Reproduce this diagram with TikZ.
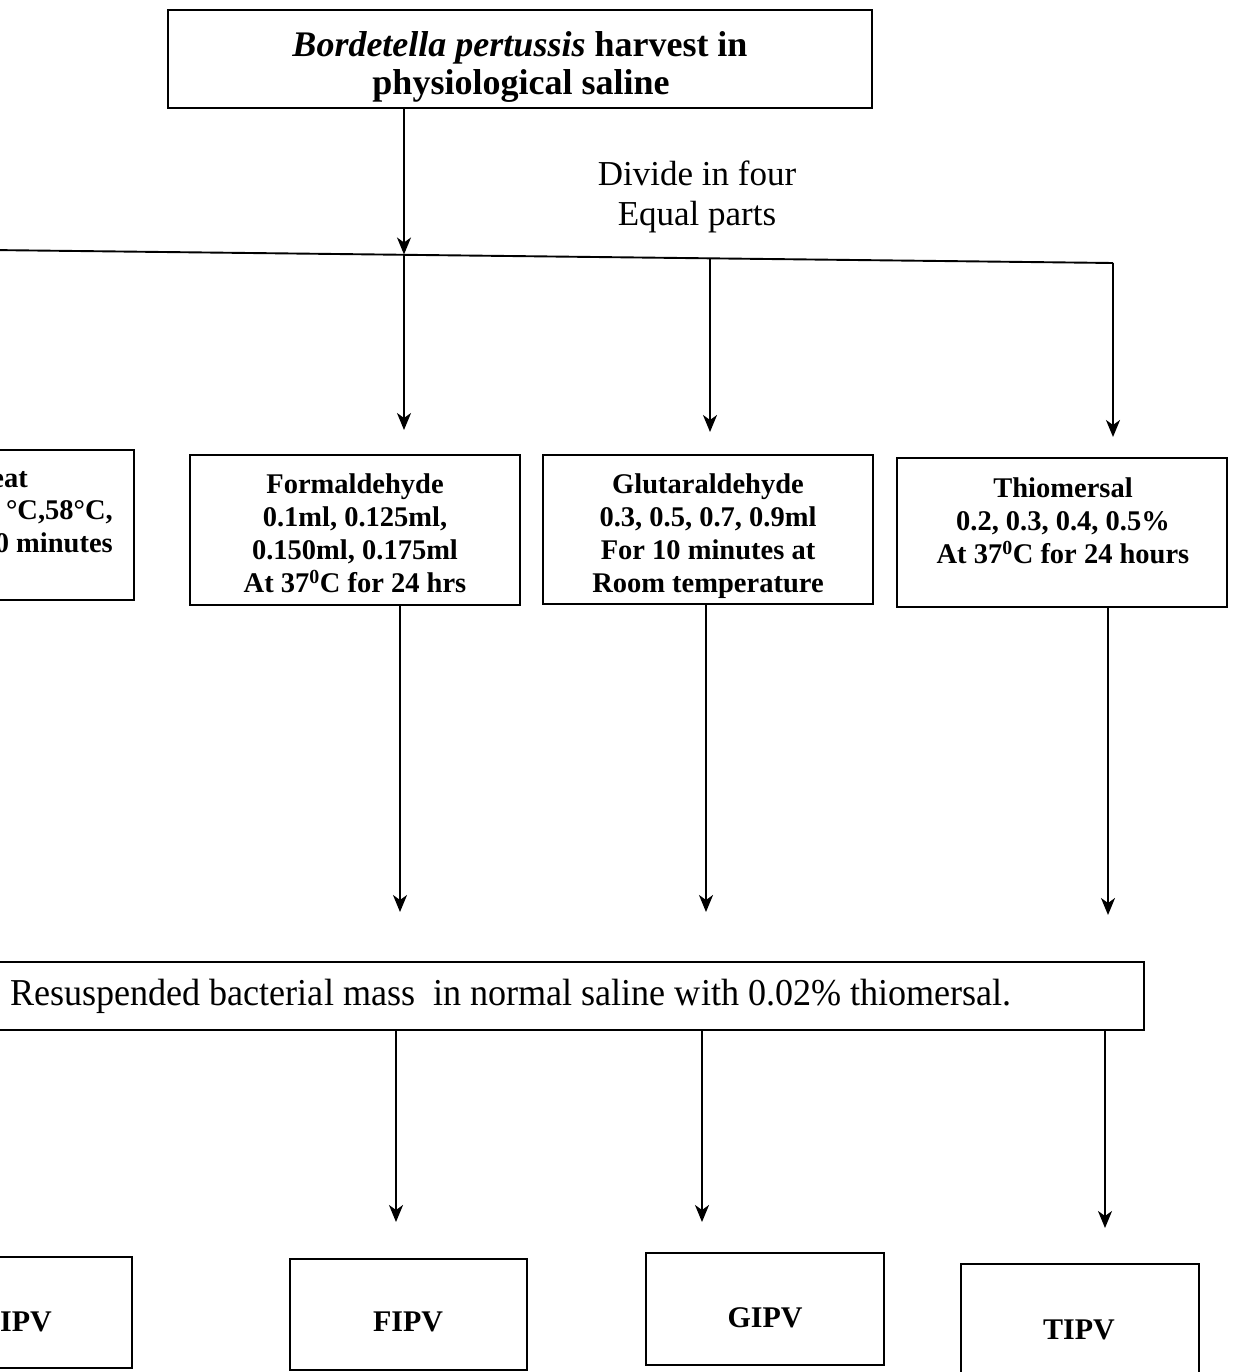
\documentclass[tikz,border=0pt]{standalone}
\usepackage{fontspec}
\setmainfont{Liberation Serif}
\newfontfamily\condserif[FakeStretch=0.95]{Liberation Serif}
\usetikzlibrary{arrows.meta}
\begin{document}
\begin{tikzpicture}[x=1pt,y=-1pt,
  box/.style={draw, line width=1.8pt, inner sep=0pt},
  arr/.style={line width=1.9pt, -{Stealth[length=17pt,width=14pt,inset=5pt]}},
  ln/.style={line width=1.9pt},
  bt/.style={font=\fontsize{28.5}{33}\selectfont\bfseries, align=center, inner sep=0pt},
  tt/.style={font=\fontsize{36}{38}\selectfont\bfseries, inner sep=0pt},
  lt/.style={font=\fontsize{30}{33}\selectfont\bfseries, inner sep=0pt},
  rt/.style={font=\fontsize{35}{40}\selectfont, align=center, inner sep=0pt}]
\useasboundingbox (0,0) rectangle (1232,1372);
\clip (0,0) rectangle (1232,1372);

% top box
\node[box, minimum width=704pt, minimum height=98pt] (top) at (520,59) {};
\node[tt, anchor=base] (t1) at (520,57) {\textit{Bordetella pertussis} harvest in};
\node[tt, anchor=base] (t2) at (521,95) {physiological saline};

\node[rt] (div) at (697,197) {Divide in four\\Equal parts};

% split line (slightly slanted as in the scan)
\coordinate (s0) at (-10,250);
\coordinate (s1) at (404,254.5);
\coordinate (s2) at (710,258.5);
\coordinate (s3) at (1113,263);
\coordinate (e1) at (404,430);
\coordinate (e2) at (710,432);
\coordinate (e3) at (1113,437);
\draw[arr] (top.south -| s1) -- (s1);
\draw[ln] (s0) -- (s3);
\draw[arr] (s3) -- (e3);
\draw[arr] (s1) -- (e1);
\draw[arr] (s2) -- (e2);

% second row boxes
\node[box, minimum width=330pt, minimum height=150pt] (heat) at (-31,525) {};
\node[bt, anchor=base east] (h1) at (28,487) {eat};
\node[bt, anchor=base east] (h2) at (113,519) {°C,58°C,};
\node[bt, anchor=base east] (h3) at (113,552) {0 minutes};

\node[box, minimum width=330pt, minimum height=150pt] (form) at (355,530) {};
\node[bt] (formt) at (355,533) {Formaldehyde\\0.1ml, 0.125ml,\\0.150ml, 0.175ml\\At 37\textsuperscript{0}C for 24 hrs};

\node[box, minimum width=330pt, minimum height=149pt] (glut) at (708,529.5) {};
\node[bt] (glutt) at (708,536) {Glutaraldehyde\\0.3, 0.5, 0.7, 0.9ml\\For 10 minutes at\\Room temperature};

\node[box, minimum width=330pt, minimum height=149pt] (thio) at (1062,532.5) {};
\node[bt] (thiot) at (1063,521) {Thiomersal\\0.2, 0.3, 0.4, 0.5\%\\At 37\textsuperscript{0}C for 24 hours};

% arrows to resuspension
\coordinate (f1) at (400,912);
\coordinate (f2) at (706,912);
\coordinate (f3) at (1108,915);
\draw[arr] (form.south -| f1) -- (f1);
\draw[arr] (glut.south -| f2) -- (f2);
\draw[arr] (thio.south -| f3) -- (f3);

\node[box, minimum width=1184pt, minimum height=68pt] (res) at (552,996) {};
\node[font=\condserif\fontsize{38}{40}\selectfont, inner sep=0pt, anchor=base] (rest) at (511,1005) {Resuspended bacterial mass\ \ in normal saline with 0.02\% thiomersal.};

\coordinate (g1) at (396,1222);
\coordinate (g2) at (702,1222);
\coordinate (g3) at (1105,1228);
\draw[arr] (res.south -| g1) -- (g1);
\draw[arr] (res.south -| g2) -- (g2);
\draw[arr] (res.south -| g3) -- (g3);

% bottom boxes
\node[box, minimum width=237pt, minimum height=111pt] (ipv) at (13.5,1312.5) {};
\node[lt, anchor=base east] (ipvt) at (52,1331) {IPV};
\node[box, minimum width=237pt, minimum height=111pt] (fipv) at (408.5,1314.5) {};
\node[lt] (fipvt) at (408,1322) {FIPV};
\node[box, minimum width=238pt, minimum height=112pt] (gipv) at (765,1309) {};
\node[lt] (gipvt) at (765,1318) {GIPV};
\node[box, minimum width=238pt, minimum height=116pt] (tipv) at (1080,1322) {};
\node[lt] (tipvt) at (1079,1330) {TIPV};
\end{tikzpicture}
\end{document}
